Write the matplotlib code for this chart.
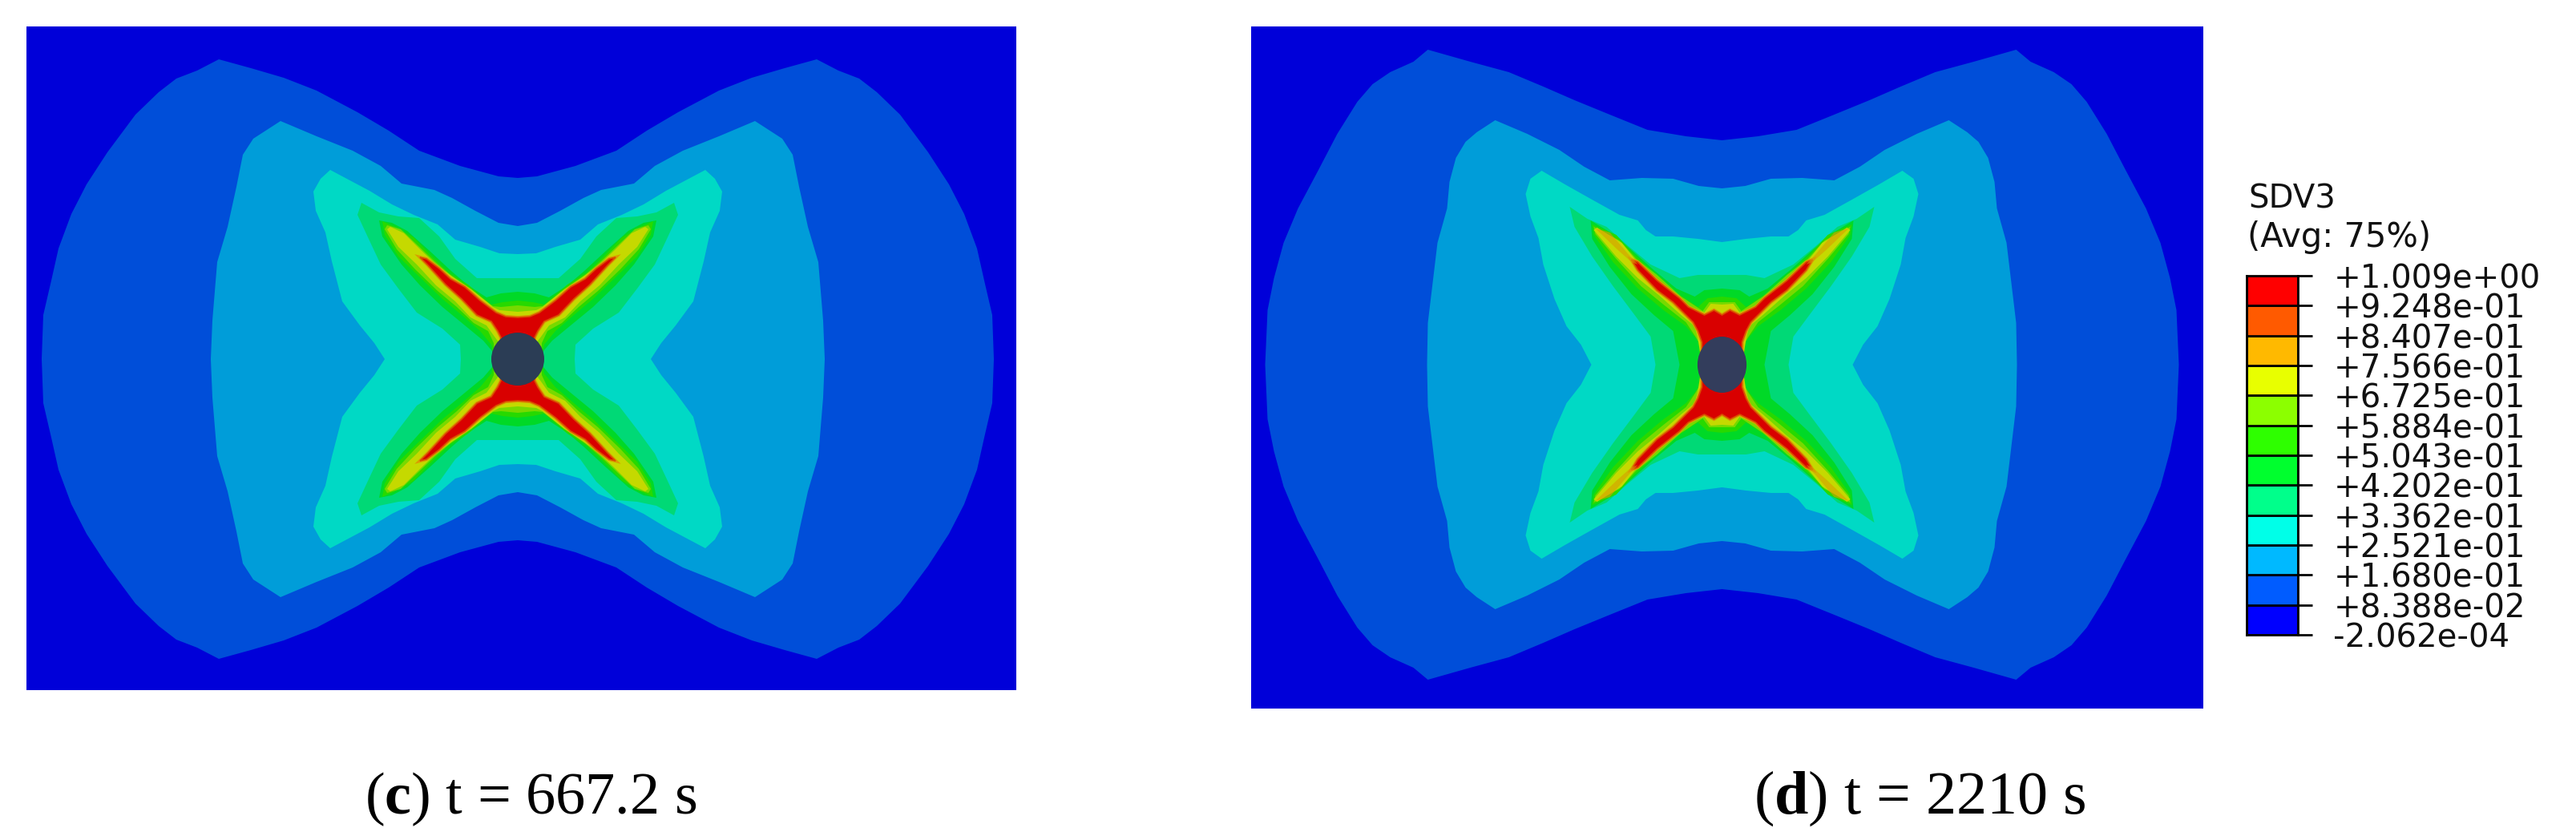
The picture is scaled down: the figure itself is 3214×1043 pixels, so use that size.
import numpy as np
import matplotlib
matplotlib.use('Agg')
import matplotlib.pyplot as plt
from matplotlib.patches import Ellipse

plt.rcParams['mathtext.fontset'] = 'custom'
plt.rcParams['mathtext.rm'] = 'Liberation Serif'
plt.rcParams['mathtext.bf'] = 'Liberation Serif:bold'

W, H = 3214, 1043

# leyenda
tick_labels = ['-2.062e-04', '+8.388e-02', '+1.680e-01', '+2.521e-01', '+3.362e-01',
               '+4.202e-01', '+5.043e-01', '+5.884e-01', '+6.725e-01', '+7.566e-01',
               '+8.407e-01', '+9.248e-01', '+1.009e+00']
band_colors = ['#0000FF', '#005CFF', '#00B9FF', '#00FFE8', '#00FF8B', '#00FF2E',
               '#2EFF00', '#8CFF00', '#E8FF00', '#FFB900', '#FF5A00', '#FF0000']
legend_title = ['SDV3', '(Avg: 75%)']

# contornos, un cuadrante (distancia al agujero: dx, dy)
c_l1_dx = [0, 24, 72, 123, 161, 200, 251, 292, 333, 373, 400, 426, 448, 477, 512, 538, 557, 573, 582, 592, 594]
c_l1_dy = [226, 228, 241, 260, 285, 308, 335, 351, 363, 374, 360, 350, 333, 305, 258, 218, 181, 138, 98, 55, 0]
c_l2_dx = [0, 24, 53, 82, 104, 145, 171, 206, 251, 296, 330, 343, 351, 362, 375, 381, 383]
c_l2_dy = [166, 170, 185, 201, 211, 219, 241, 260, 278, 297, 275, 255, 215, 165, 121, 48, 0]
c_l3_dx = [0, 23, 47, 78, 100, 130, 157, 185, 234, 246, 255, 252, 240, 232, 219, 197, 179, 166]
c_l3_dy = [131, 132, 140, 149, 168, 180, 193, 210, 236, 225, 209, 185, 158, 122, 72, 42, 20, 0]
c_l4_dx = [0, 51, 78, 98, 123, 149, 173, 195, 200, 187, 171, 149, 126, 94, 72, 71]
c_l4_dy = [101, 101, 125, 153, 176, 178, 183, 195, 180, 152, 118, 88, 58, 38, 18, 0]
c_l5_dx = [0, 21, 39, 62, 82, 110, 138, 157, 173, 169, 145, 122, 94, 66, 43, 32, 30]
c_l5_dy = [84, 82, 77, 92, 109, 135, 160, 170, 173, 153, 118, 92, 65, 42, 23, 10, 0]
c_l6_dx = [0, 19, 33, 62, 86, 106, 130, 153, 169, 166, 149, 122, 94, 70, 47, 33, 29]
c_l6_dy = [73, 71, 68, 93, 108, 127, 152, 165, 172, 155, 128, 102, 75, 55, 35, 18, 0]
c_l7_dx = [0, 21, 31, 62, 84, 104, 126, 146, 163, 166, 151, 128, 100, 76, 55, 37, 30, 29]
c_l7_dy = [67, 65, 66, 90, 105, 122, 143, 162, 167, 162, 137, 112, 85, 65, 45, 35, 20, 0]
c_l8_dx = [0, 23, 31, 58, 82, 102, 122, 142, 159, 163, 149, 126, 102, 78, 59, 39, 29, 23, 22]
c_l8_dy = [59, 61, 65, 87, 103, 118, 137, 157, 165, 162, 140, 118, 92, 72, 52, 42, 28, 20, 0]
c_red_dx = [0, 15, 27, 47, 66, 84, 98, 114, 122, 112, 90, 70, 51, 33, 25, 21, 21]
c_red_dy = [52, 53, 58, 73, 90, 100, 113, 125, 127, 117, 93, 75, 55, 47, 35, 27, 0]

d_l1_dx = [0, 45, 93, 140, 184, 223, 266, 314, 367, 385, 414, 436, 455, 480, 504, 529, 547, 559, 567, 570]
d_l1_dy = [280, 285, 293, 312, 330, 347, 365, 378, 393, 378, 365, 350, 328, 288, 242, 195, 152, 108, 68, 0]
d_l2_dx = [0, 29, 61, 100, 140, 172, 203, 243, 283, 306, 320, 332, 340, 343, 355, 361, 367, 368]
d_l2_dy = [220, 223, 232, 233, 230, 247, 268, 288, 305, 290, 278, 258, 228, 195, 152, 102, 52, 0]
d_l3_dx = [0, 30, 61, 83, 95, 105, 128, 164, 196, 225, 239, 245, 239, 229, 223, 209, 194, 176, 163]
d_l3_dy = [153, 157, 160, 160, 168, 180, 187, 207, 225, 242, 232, 213, 185, 158, 125, 82, 48, 25, 0]
d_l4_dx = [0, 30, 53, 89, 117, 144, 168, 190, 184, 162, 136, 109, 89, 83]
d_l4_dy = [112, 112, 108, 125, 148, 172, 182, 197, 172, 135, 98, 62, 35, 0]
d_l5_dx = [0, 22, 34, 57, 85, 113, 136, 164, 162, 140, 113, 85, 61, 53]
d_l5_dy = [95, 93, 85, 95, 118, 143, 163, 180, 157, 122, 88, 62, 42, 0]
d_l6_dx = [0, 18, 30, 57, 85, 109, 132, 162, 160, 136, 105, 73, 45, 30, 26]
d_l6_dy = [85, 83, 72, 90, 115, 137, 162, 175, 162, 128, 95, 68, 48, 30, 0]
d_l7_dx = [0, 16, 24, 51, 81, 107, 128, 160, 158, 132, 101, 73, 45, 33, 26, 25]
d_l7_dy = [78, 78, 67, 85, 112, 132, 155, 172, 163, 132, 98, 75, 53, 35, 22, 0]
d_l8_dx = [0, 14, 22, 45, 73, 105, 125, 156, 160, 132, 105, 79, 51, 34, 30, 25]
d_l8_dy = [75, 76, 65, 75, 98, 127, 152, 171, 168, 135, 108, 87, 62, 48, 32, 0]
# mancha ambar en la punta del brazo (no toca los ejes)
d_tip_dx = [158, 140, 117, 105, 113, 132]
d_tip_dy = [170, 165, 138, 125, 128, 145]
d_red_dx = [0, 10, 22, 42, 53, 81, 105, 113, 105, 81, 61, 45, 36, 30, 25, 25]
d_red_dy = [62, 68, 62, 72, 83, 105, 128, 131, 118, 93, 78, 62, 53, 42, 28, 0]

shade = 0.85
hole_color = '#2B3D55'


def cuadrantes(dx, dy):
    # espeja el cuadrante a los otros tres
    dx = np.array(dx, float)
    dy = np.array(dy, float)
    x = np.r_[dx, dx[::-1], -dx, -dx[::-1]]
    y = np.r_[dy, -dy[::-1], -dy, dy[::-1]]
    return x, y


def color_banda(i):
    r, g, b = matplotlib.colors.to_rgb(band_colors[i])
    return (r * shade, g * shade, b * shade)


def px_axes(fig, x0, y0, x1, y1):
    return fig.add_axes([x0 / W, 1 - y1 / H, (x1 - x0) / W, (y1 - y0) / H])


def panel(fig, rect, centro, radios, contornos, rojo, hole):
    x0, y0, x1, y1 = rect
    cx, cy = centro
    ax = px_axes(fig, x0, y0, x1, y1)
    ax.set_facecolor(color_banda(0))
    ax.set_xlim(x0 - cx, x1 - cx)
    ax.set_ylim(cy - y1, cy - y0)
    ax.set_xticks([])
    ax.set_yticks([])
    for s in ax.spines.values():
        s.set_visible(False)
    for i, dx, dy in contornos:
        x, y = cuadrantes(dx, dy)
        ax.fill(x, y, color=color_banda(i), lw=0)
    # banda roja con borde naranja fino
    x, y = cuadrantes(*rojo)
    ax.fill(x, y, facecolor='none', edgecolor=color_banda(9), lw=3.0)
    ax.fill(x, y, facecolor=color_banda(11), edgecolor=color_banda(10), lw=1.2)
    ax.add_patch(Ellipse((0, 0), 2 * radios[0], 2 * radios[1], color=hole, lw=0, zorder=5))
    return ax


fig = plt.figure(figsize=(W / 100, H / 100), dpi=100, facecolor='white')

panel(fig, (33, 33, 1268, 861), (646, 448), (33, 33),
      [(1, c_l1_dx, c_l1_dy), (2, c_l2_dx, c_l2_dy), (3, c_l3_dx, c_l3_dy),
       (4, c_l4_dx, c_l4_dy), (5, c_l5_dx, c_l5_dy), (6, c_l6_dx, c_l6_dy),
       (7, c_l7_dx, c_l7_dy), (8, c_l8_dx, c_l8_dy)],
      (c_red_dx, c_red_dy), hole_color)

ax_d = panel(fig, (1561, 33, 2749, 884), (2148.5, 455), (30.6, 35),
             [(1, d_l1_dx, d_l1_dy), (2, d_l2_dx, d_l2_dy), (3, d_l3_dx, d_l3_dy),
              (4, d_l4_dx, d_l4_dy), (5, d_l5_dx, d_l5_dy), (6, d_l6_dx, d_l6_dy),
              (7, d_l7_dx, d_l7_dy), (8, d_l8_dx, d_l8_dy)],
             (d_red_dx, d_red_dy), '#333D5C')
for sx, sy in [(1, 1), (-1, 1), (1, -1), (-1, -1)]:
    ax_d.fill(sx * np.array(d_tip_dx), sy * np.array(d_tip_dy), color=color_banda(9), alpha=0.6, lw=0)

# barra de colores
cax = px_axes(fig, 2803, 344, 2867, 792)
niveles = np.arange(len(tick_labels))
for i, col in enumerate(band_colors):
    cax.bar(0.5, 1, bottom=niveles[i], width=1, color=col, edgecolor='black', linewidth=2)
cax.set_xlim(0, 1)
cax.set_ylim(niveles[0], niveles[-1])
cax.set_xticks([])
cax.yaxis.tick_right()
cax.set_yticks(niveles, labels=tick_labels)
cax.tick_params(axis='y', length=13, width=2, pad=19, labelsize=29, labelcolor='#111111')
for s in cax.spines.values():
    s.set_linewidth(2)

# titulo de la leyenda
fig.text(2805 / W, 1 - 259 / H, legend_title[0], fontsize=29, color='#111111', va='baseline')
fig.text(2804 / W, 1 - 308 / H, legend_title[1], fontsize=30, color='#111111', va='baseline')

# epigrafes
fig.text(455 / W, 1 - 1015 / H, r'($\mathbf{c}$) t = 667.2 s', family='Liberation Serif',
         fontsize=53.5, va='baseline')
fig.text(2188 / W, 1 - 1015 / H, r'($\mathbf{d}$) t = 2210 s', family='Liberation Serif',
         fontsize=54.8, va='baseline')

fig.savefig('out.png', dpi=100)
